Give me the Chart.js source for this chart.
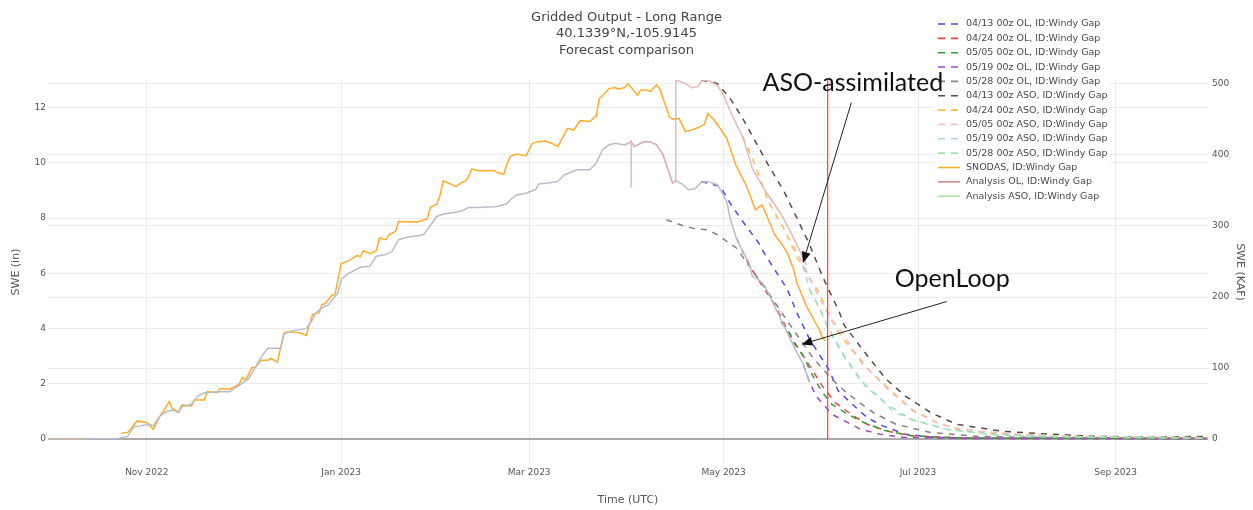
<!DOCTYPE html>
<html>
<head>
<meta charset="utf-8">
<title>Gridded Output - Long Range</title>
<script src="https://cdn.jsdelivr.net/npm/chart.js@4.4.1/dist/chart.umd.min.js"></script>
<style>
  html, body { margin: 0; padding: 0; background: #ffffff; }
  #wrap { width: 1253px; height: 510px; position: relative; }
</style>
</head>
<body>
<div id="wrap"><canvas id="swe" width="1253" height="510"></canvas></div>
<script>
// ---------------- chart text ----------------
const titleLines = ['Gridded Output - Long Range', '40.1339°N,-105.9145', 'Forecast comparison'];
const xTitle = 'Time (UTC)';
const yTitle = 'SWE (in)';
const y2Title = 'SWE (KAF)';

// ---------------- axes ----------------
const xStart = '2022-10-01';
const xEnd = '2023-09-30';
const tickDates = ['2022-11-01', '2023-01-01', '2023-03-01', '2023-05-01', '2023-07-01', '2023-09-01'];
const monthNames = ['Jan', 'Feb', 'Mar', 'Apr', 'May', 'Jun', 'Jul', 'Aug', 'Sep', 'Oct', 'Nov', 'Dec'];
const sweTicks = [0, 2, 4, 6, 8, 10, 12];
const kafTicks = [0, 100, 200, 300, 400, 500];
const sweMin = -0.9;
const sweMax = 13.0;
const kafPerInch = 38.88;

// ---------------- observed / analysis series ----------------
const snodasDates = ['2022-10-01','2022-10-12','2022-10-18','2022-10-24','2022-10-26','2022-10-29','2022-11-01','2022-11-03','2022-11-05','2022-11-06','2022-11-08','2022-11-09','2022-11-11','2022-11-12','2022-11-15','2022-11-16','2022-11-19','2022-11-20','2022-11-23','2022-11-24','2022-11-27','2022-11-30','2022-12-01','2022-12-02','2022-12-04','2022-12-05','2022-12-07','2022-12-09','2022-12-10','2022-12-12','2022-12-14','2022-12-15','2022-12-19','2022-12-21','2022-12-23','2022-12-25','2022-12-26','2022-12-27','2022-12-29','2022-12-30','2023-01-01','2023-01-04','2023-01-06','2023-01-07','2023-01-08','2023-01-10','2023-01-12','2023-01-13','2023-01-15','2023-01-16','2023-01-18','2023-01-19','2023-01-25','2023-01-28','2023-01-29','2023-01-31','2023-02-01','2023-02-02','2023-02-06','2023-02-08','2023-02-09','2023-02-10','2023-02-11','2023-02-13','2023-02-18','2023-02-19','2023-02-21','2023-02-22','2023-02-23','2023-02-25','2023-02-28','2023-03-02','2023-03-04','2023-03-06','2023-03-08','2023-03-10','2023-03-13','2023-03-15','2023-03-17','2023-03-20','2023-03-22','2023-03-23','2023-03-24','2023-03-26','2023-03-28','2023-03-29','2023-03-31','2023-04-01','2023-04-04','2023-04-05','2023-04-07','2023-04-08','2023-04-10','2023-04-11','2023-04-12','2023-04-14','2023-04-15','2023-04-17','2023-04-19','2023-04-21','2023-04-23','2023-04-25','2023-04-26','2023-04-28','2023-04-29','2023-05-02','2023-05-05','2023-05-08','2023-05-11','2023-05-13','2023-05-14','2023-05-17','2023-05-19','2023-05-21','2023-05-23','2023-05-24','2023-05-27','2023-05-31','2023-06-01','2023-06-02'];
const snodasSwe = [0,0,null,0.22,0.24,0.66,0.60,0.36,0.80,0.98,1.36,1.11,0.99,1.23,1.20,1.42,1.42,1.72,1.68,1.83,1.81,1.99,2.23,2.14,2.59,2.59,2.86,2.86,2.92,2.79,3.83,3.89,3.85,3.75,4.51,4.57,4.87,4.91,5.20,5.23,6.35,6.50,6.65,6.60,6.83,6.71,6.82,7.28,7.22,7.40,7.52,7.88,7.86,7.98,8.39,8.51,8.82,9.35,9.15,9.30,9.35,9.51,9.78,9.72,9.72,9.65,9.59,9.95,10.23,10.32,10.26,10.71,10.77,10.79,10.71,10.59,11.25,11.19,11.53,11.50,11.70,12.33,12.43,12.69,12.73,12.67,12.73,12.87,12.45,12.64,12.64,12.58,12.82,12.67,12.33,11.67,11.58,11.61,11.13,11.19,11.28,11.40,11.79,11.55,11.40,10.89,9.87,9.21,8.30,8.48,8.24,7.40,7.10,6.74,6.14,5.66,4.81,3.97,3.67,3.55];

const analysisOlDates = ['2022-10-01','2022-10-23','2022-10-26','2022-10-28','2022-10-30','2022-11-02','2022-11-03','2022-11-05','2022-11-07','2022-11-09','2022-11-11','2022-11-12','2022-11-15','2022-11-16','2022-11-17','2022-11-19','2022-11-24','2022-11-27','2022-11-30','2022-12-03','2022-12-05','2022-12-07','2022-12-09','2022-12-13','2022-12-14','2022-12-16','2022-12-21','2022-12-23','2022-12-24','2022-12-26','2022-12-28','2022-12-31','2023-01-01','2023-01-03','2023-01-05','2023-01-07','2023-01-10','2023-01-12','2023-01-15','2023-01-17','2023-01-19','2023-01-22','2023-01-26','2023-01-27','2023-01-31','2023-02-02','2023-02-06','2023-02-08','2023-02-10','2023-02-13','2023-02-19','2023-02-22','2023-02-23','2023-02-25','2023-02-28','2023-03-03','2023-03-04','2023-03-07','2023-03-10','2023-03-12','2023-03-14','2023-03-16','2023-03-20','2023-03-22','2023-03-24','2023-03-26','2023-03-28','2023-03-31','2023-04-02','2023-04-03','2023-04-05','2023-04-06','2023-04-08','2023-04-10','2023-04-12','2023-04-15','2023-04-16','2023-04-18','2023-04-20','2023-04-22','2023-04-24','2023-04-26','2023-04-29','2023-04-30','2023-05-02','2023-05-03','2023-05-05','2023-05-07','2023-05-09','2023-05-10','2023-05-12','2023-05-14','2023-05-17','2023-05-20','2023-05-23','2023-05-26','2023-05-28'];
const analysisOlSwe = [0,0.02,0.10,0.45,0.48,0.54,0.48,0.82,0.99,1.05,0.96,1.17,1.26,1.42,1.56,1.68,1.72,1.72,1.95,2.19,2.59,2.99,3.29,3.29,3.79,3.91,4.00,4.33,4.57,4.75,4.87,5.30,5.78,5.98,6.10,6.22,6.26,6.62,6.68,6.80,7.22,7.32,7.38,7.42,8.06,8.15,8.21,8.27,8.39,8.39,8.42,8.52,8.66,8.84,8.90,9.03,9.24,9.27,9.33,9.57,9.66,9.75,9.75,9.99,10.47,10.65,10.71,10.65,10.77,10.59,10.71,10.77,10.77,10.65,10.29,9.27,9.35,9.23,9.03,9.06,9.30,9.33,9.21,9.03,8.60,8.00,7.28,6.80,6.38,5.90,5.78,5.53,4.81,4.09,3.37,2.71,2.05];

// ASO analysis: departs from the open-loop run at the first flight, then jumps on assimilation
const asoFirstDate = '2023-03-31';
const asoSplitDate = '2023-04-16';
const asoDipDates = ['2023-04-02', '2023-04-02', '2023-04-02'];
const asoDipSwe = [10.77, 9.11, 10.77];
const asoUpperDates = ['2023-04-16','2023-04-19','2023-04-21','2023-04-23','2023-04-24','2023-04-26','2023-04-29','2023-05-01','2023-05-03','2023-05-05','2023-05-07','2023-05-09','2023-05-10','2023-05-14','2023-05-19','2023-05-22','2023-05-25','2023-05-27'];
const asoUpperSwe = [13.0,12.88,12.72,12.76,12.96,13.0,12.82,12.45,11.9,11.4,10.95,10.2,9.8,9.0,8.15,7.5,6.8,6.3];

// ---------------- forecast runs ----------------
const ol0413Dates = ['2023-04-24','2023-04-30','2023-05-03','2023-05-07','2023-05-12','2023-05-14','2023-05-17','2023-05-21','2023-05-24','2023-05-28','2023-05-31','2023-06-03','2023-06-06','2023-06-11','2023-06-15','2023-06-20','2023-06-27','2023-07-06','2023-07-25','2023-09-30'];
const ol0413Swe = [9.33,9.15,8.55,7.88,7.10,6.68,6.14,5.42,4.57,3.61,3.07,2.53,1.74,1.20,0.78,0.48,0.18,0.06,0.03,0.03];
const ol0424Dates = ['2023-05-05','2023-05-09','2023-05-12','2023-05-17','2023-05-22','2023-05-28','2023-06-01','2023-06-05','2023-06-10','2023-06-15','2023-06-21','2023-06-29','2023-07-15','2023-09-30'];
const ol0424Swe = [7.28,6.30,5.75,4.87,3.73,2.65,1.92,1.32,0.90,0.54,0.30,0.12,0.04,0.02];
const ol0505Dates = ['2023-05-19','2023-05-22','2023-05-23','2023-05-26','2023-05-29','2023-06-01','2023-06-04','2023-06-09','2023-06-14','2023-06-21','2023-06-29','2023-07-15','2023-09-30'];
const ol0505Swe = [4.25,3.79,3.49,3.01,2.29,1.69,1.26,0.90,0.60,0.30,0.12,0.04,0.02];
const ol0519Dates = ['2023-05-26','2023-05-28','2023-05-30','2023-06-04','2023-06-09','2023-06-13','2023-06-19','2023-06-27','2023-07-20','2023-09-30'];
const ol0519Swe = [2.71,2.05,1.56,0.90,0.60,0.36,0.18,0.06,0.02,0.01];
const ol0528Dates = ['2023-04-13','2023-04-16','2023-04-19','2023-04-22','2023-04-26','2023-04-29','2023-05-02','2023-05-05','2023-05-08','2023-05-11','2023-05-14','2023-05-20','2023-05-25','2023-05-29','2023-06-04','2023-06-08','2023-06-12','2023-06-17','2023-06-24','2023-07-05','2023-07-20','2023-08-15','2023-09-30'];
const ol0528Swe = [7.94,7.82,7.70,7.62,7.58,7.40,7.16,6.92,6.44,5.96,5.48,4.45,3.61,2.95,2.17,1.74,1.38,0.96,0.54,0.24,0.10,0.05,0.04];

const aso0413Dates = ['2023-04-24','2023-04-29','2023-05-03','2023-05-07','2023-05-11','2023-05-15','2023-05-20','2023-05-24','2023-05-28','2023-06-01','2023-06-03','2023-06-06','2023-06-08','2023-06-12','2023-06-16','2023-06-21','2023-06-27','2023-07-05','2023-07-13','2023-07-27','2023-08-11','2023-08-27','2023-09-12','2023-09-30'];
const aso0413Swe = [13.0,12.88,12.34,11.61,10.77,9.93,8.96,8.0,7.04,5.9,5.4,4.69,4.09,3.49,2.89,2.17,1.56,0.96,0.54,0.29,0.18,0.10,0.07,0.10];
const aso0424Dates = ['2023-05-07','2023-05-11','2023-05-15','2023-05-20','2023-05-24','2023-05-28','2023-05-31','2023-06-03','2023-06-07','2023-06-12','2023-06-16','2023-06-21','2023-06-29','2023-07-07','2023-07-13','2023-07-25','2023-08-10','2023-09-01','2023-09-30'];
const aso0424Swe = [10.95,9.9,8.6,7.6,6.6,5.8,5.3,4.5,3.7,3.0,2.45,1.92,1.08,0.60,0.36,0.20,0.12,0.07,0.06];
const aso0505Dates = ['2023-05-23','2023-05-27','2023-05-31','2023-06-04','2023-06-07','2023-06-13','2023-06-19','2023-06-22','2023-06-30','2023-07-08','2023-07-16','2023-08-01','2023-08-20','2023-09-30'];
const aso0505Swe = [7.0,6.1,5.1,4.3,3.9,2.8,2.1,1.75,0.97,0.55,0.33,0.18,0.10,0.05];
const aso0519Dates = ['2023-05-26','2023-05-28','2023-05-31','2023-06-03','2023-06-08','2023-06-13','2023-06-15','2023-06-21','2023-06-23','2023-06-29','2023-07-10','2023-07-25','2023-08-15','2023-09-30'];
const aso0519Swe = [6.3,5.4,4.8,4.0,3.0,2.17,1.85,1.3,1.0,0.72,0.36,0.17,0.08,0.04];
const aso0528Dates = ['2023-05-28','2023-05-31','2023-06-03','2023-06-08','2023-06-13','2023-06-21','2023-06-29','2023-07-10','2023-07-25','2023-08-15','2023-09-30'];
const aso0528Swe = [5.4,4.75,3.95,2.95,2.12,1.27,0.70,0.35,0.16,0.08,0.04];

// date of the latest analysis (vertical marker)
const nowDate = '2023-06-02T15:30';

// call-outs: text anchor and arrow (tail -> head) in date / SWE units
const calloutText = ['ASO-assimilated', 'OpenLoop'];
const calloutTextDate = ['2023-05-13T05:00', '2023-06-23T17:00'];
const calloutTextSwe = [12.6, 5.49];
const calloutTailDate = ['2023-06-10T02:00', '2023-07-10T00:00'];
const calloutTailSwe = [12.18, 4.98];
const calloutHeadDate = ['2023-05-25T22:00', '2023-05-25T10:00'];
const calloutHeadSwe = [6.38, 3.43];

// ---------------- helpers ----------------
function t(s) {
  return Date.parse(s.length === 10 ? s + 'T00:00:00Z' : s + ':00Z');
}
function pts(dates, vals) {
  return dates.map((d, i) => ({ x: t(d), y: vals[i] }));
}

const analysisAsoPoints = pts(analysisOlDates, analysisOlSwe)
  .filter(p => p.x >= t(asoFirstDate) && p.x <= t(asoSplitDate))
  .concat(pts(asoDipDates, asoDipSwe))
  .concat(pts(asoUpperDates, asoUpperSwe))
  .map((p, i) => ({ p, i }))
  .sort((a, b) => (a.p.x - b.p.x) || (a.i - b.i))
  .map(o => o.p);

const DASH = [6, 6];
// line colour, and the swatch colour shown in the legend box
const series = [
  { label: '04/13 00z OL, ID:Windy Gap',  data: pts(ol0413Dates, ol0413Swe),   color: '#5a46e2', dash: DASH },
  { label: '04/24 00z OL, ID:Windy Gap',  data: pts(ol0424Dates, ol0424Swe),   color: '#e8473e', dash: DASH },
  { label: '05/05 00z OL, ID:Windy Gap',  data: pts(ol0505Dates, ol0505Swe),   color: '#3a9a3a', dash: DASH },
  { label: '05/19 00z OL, ID:Windy Gap',  data: pts(ol0519Dates, ol0519Swe),   color: '#a349c2', dash: DASH },
  { label: '05/28 00z OL, ID:Windy Gap',  data: pts(ol0528Dates, ol0528Swe),   color: '#8c7f86', dash: DASH },
  { label: '04/13 00z ASO, ID:Windy Gap', data: pts(aso0413Dates, aso0413Swe), color: '#5a4d42', dash: DASH },
  { label: '04/24 00z ASO, ID:Windy Gap', data: pts(aso0424Dates, aso0424Swe), color: '#ffb84d', dash: DASH },
  { label: '05/05 00z ASO, ID:Windy Gap', data: pts(aso0505Dates, aso0505Swe), color: '#f2bcc6', dash: DASH },
  { label: '05/19 00z ASO, ID:Windy Gap', data: pts(aso0519Dates, aso0519Swe), color: '#a6d8e4', dash: DASH },
  { label: '05/28 00z ASO, ID:Windy Gap', data: pts(aso0528Dates, aso0528Swe), color: '#a0e2b0', dash: DASH },
  { label: 'SNODAS, ID:Windy Gap',        data: pts(snodasDates, snodasSwe),   color: '#ffab2e', dash: [] },
  { label: 'Analysis OL, ID:Windy Gap',   data: pts(analysisOlDates, analysisOlSwe), color: '#b8bdcc', swatch: '#d08a8a', dash: [] },
  { label: 'Analysis ASO, ID:Windy Gap',  data: analysisAsoPoints,             color: 'rgba(226,178,176,0.9)', swatch: '#a6e6a6', dash: [] }
];

const datasets = series.map((s, i) => ({
  label: s.label,
  data: s.data,
  borderColor: s.color,
  backgroundColor: s.color,
  swatch: s.swatch || s.color,
  borderDash: s.dash,
  borderWidth: 1.5,
  pointRadius: 0,
  tension: 0,
  spanGaps: false,
  order: series.length - i + 1,
  yAxisID: 'y'
}));
datasets.push({
  label: 'now',
  data: [{ x: t(nowDate), y: 0 }, { x: t(nowDate), y: sweMax }],
  borderColor: 'rgba(255,45,45,0.85)',
  borderWidth: 1.3,
  pointRadius: 0,
  order: 0,
  yAxisID: 'y',
  hideInLegend: true
});

const FONT = 'DejaVu Sans';

// legend drawn as an overlay box in the upper right
const overlayLegend = {
  id: 'overlayLegend',
  afterDraw(chart) {
    const ctx = chart.ctx;
    const items = chart.data.datasets.filter(d => !d.hideInLegend);
    const x0 = 938, sampleLen = 22, textX = 966, y0 = 24, step = 14.35;
    ctx.save();
    ctx.fillStyle = '#ffffff';
    ctx.fillRect(933, 13, 176, y0 + step * (items.length - 1) + 9 - 13);
    ctx.font = '9.5px "' + FONT + '"';
    ctx.textBaseline = 'middle';
    ctx.textAlign = 'left';
    items.forEach((d, i) => {
      const y = y0 + i * step;
      ctx.beginPath();
      ctx.setLineDash(d.borderDash && d.borderDash.length ? [7, 6] : []);
      ctx.strokeStyle = d.swatch;
      ctx.lineWidth = 1.6;
      ctx.moveTo(x0, y);
      ctx.lineTo(x0 + sampleLen, y);
      ctx.stroke();
      ctx.setLineDash([]);
      ctx.fillStyle = '#4a4a4a';
      ctx.fillText(d.label, textX, y);
    });
    ctx.restore();
  }
};

// call-out labels with arrows
const callouts = {
  id: 'callouts',
  afterDraw(chart) {
    const ctx = chart.ctx;
    const xs = chart.scales.x, ys = chart.scales.y;
    ctx.save();
    ctx.fillStyle = '#111';
    ctx.strokeStyle = '#222';
    ctx.font = '25px Lato';
    ctx.textBaseline = 'alphabetic';
    ctx.textAlign = 'left';
    calloutText.forEach((txt, i) => {
      ctx.fillText(txt, xs.getPixelForValue(t(calloutTextDate[i])), ys.getPixelForValue(calloutTextSwe[i]));
      const x1 = xs.getPixelForValue(t(calloutTailDate[i])), y1 = ys.getPixelForValue(calloutTailSwe[i]);
      const x2 = xs.getPixelForValue(t(calloutHeadDate[i])), y2 = ys.getPixelForValue(calloutHeadSwe[i]);
      const ang = Math.atan2(y2 - y1, x2 - x1);
      const hl = 11, hw = 4.5;
      const bx = x2 - hl * Math.cos(ang), by = y2 - hl * Math.sin(ang);
      ctx.beginPath();
      ctx.lineWidth = 1;
      ctx.moveTo(x1, y1);
      ctx.lineTo(bx, by);
      ctx.stroke();
      ctx.beginPath();
      ctx.moveTo(x2, y2);
      ctx.lineTo(bx + hw * Math.sin(ang), by - hw * Math.cos(ang));
      ctx.lineTo(bx - hw * Math.sin(ang), by + hw * Math.cos(ang));
      ctx.closePath();
      ctx.fill();
    });
    ctx.restore();
  }
};

const gridColor = '#ececec';
const zeroColor = '#a9a9a9';

new Chart(document.getElementById('swe'), {
  type: 'line',
  data: { datasets },
  plugins: [overlayLegend, callouts],
  options: {
    responsive: false,
    animation: false,
    events: [],
    layout: { padding: 0 },
    plugins: {
      legend: { display: false },
      tooltip: { enabled: false },
      title: {
        display: true,
        text: titleLines,
        color: '#444',
        font: { family: FONT, size: 13, weight: 'normal', lineHeight: 1.27 },
        padding: { top: 9, bottom: 21.5 }
      }
    },
    scales: {
      x: {
        type: 'linear',
        min: t(xStart),
        max: t(xEnd),
        border: { display: false },
        grid: { color: gridColor, lineWidth: 1, drawTicks: false },
        afterBuildTicks(s) { s.ticks = tickDates.map(d => ({ value: t(d) })); },
        ticks: {
          padding: 3,
          color: '#555',
          font: { family: FONT, size: 9 },
          maxRotation: 0,
          autoSkip: false,
          callback(v) { const d = new Date(v); return monthNames[d.getUTCMonth()] + ' ' + d.getUTCFullYear(); }
        },
        title: { display: true, text: xTitle, color: '#555', font: { family: FONT, size: 11 }, padding: { top: 0, bottom: 3.5 } },
        afterFit(s) { s.height = 46; }
      },
      y: {
        position: 'left',
        min: sweMin,
        max: sweMax,
        border: { display: false },
        grid: {
          drawTicks: false,
          color: c => (c.tick && c.tick.value === 0 ? zeroColor : gridColor),
          lineWidth: c => (c.tick && c.tick.value === 0 ? 2 : 1)
        },
        afterBuildTicks(s) { s.ticks = sweTicks.map(v => ({ value: v })); },
        ticks: { padding: 2, color: '#555', font: { family: FONT, size: 9 } },
        title: { display: true, text: yTitle, color: '#555', font: { family: FONT, size: 11 }, padding: { top: 10, bottom: 0 } },
        afterFit(s) { s.width = 48; }
      },
      y2: {
        position: 'right',
        min: sweMin * kafPerInch,
        max: sweMax * kafPerInch,
        border: { display: false },
        grid: {
          drawTicks: false,
          color: c => (c.tick && c.tick.value === 0 ? zeroColor : gridColor),
          lineWidth: c => (c.tick && c.tick.value === 0 ? 2 : 1)
        },
        afterBuildTicks(s) { s.ticks = kafTicks.map(v => ({ value: v })); },
        ticks: { padding: 4, color: '#555', font: { family: FONT, size: 9 } },
        title: { display: true, text: y2Title, color: '#555', font: { family: FONT, size: 11 }, padding: { top: 6.4, bottom: 0 } },
        afterFit(s) { s.width = 45; }
      }
    }
  }
});
</script>
</body>
</html>
